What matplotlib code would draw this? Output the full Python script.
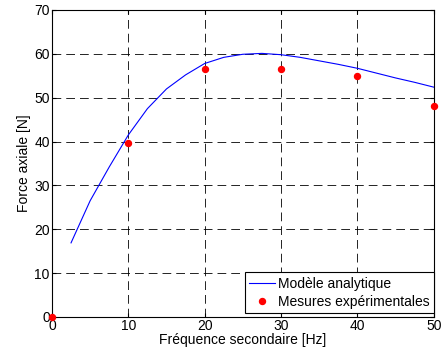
import matplotlib
matplotlib.use("Agg")
import matplotlib.pyplot as plt

model_x = [2.5, 5, 7.5, 10, 12.5, 15, 17.5, 20, 22.5, 25, 27.5, 30, 32.5, 35, 37.5, 40, 42.5, 45, 47.5, 50]
model_y = [16.9, 26.5, 34.2, 41.5, 47.5, 52.0, 55.2, 57.8, 59.2, 59.9, 60.1, 59.8, 59.2, 58.4, 57.6, 56.7, 55.6, 54.5, 53.5, 52.4]
meas_x = [0, 10, 20, 30, 40, 50]
meas_y = [0, 39.7, 56.6, 56.5, 55.0, 48.1]
xticks = [0, 10, 20, 30, 40, 50]
yticks = [0, 10, 20, 30, 40, 50, 60, 70]

plt.rcParams['font.family'] = ['Liberation Sans', 'DejaVu Sans']
plt.rcParams['font.size'] = 10

fig = plt.figure(figsize=(4.44, 3.56), dpi=100)
ax = fig.add_axes([0.117, 0.1096, 0.977 - 0.117, 0.972 - 0.1096])
ax.plot(model_x, model_y, color='blue', lw=0.8, label='Modèle analytique')
ax.plot(meas_x, meas_y, 'o', color='red', ms=4.3, label='Mesures expérimentales', clip_on=False, zorder=5)
ax.set_xlim(0, 50)
ax.set_ylim(0, 70)
ax.set_xticks(xticks)
ax.set_yticks(yticks)
ax.grid(True, color='black', linestyle=(0, (10.5, 6)), lw=0.6)
ax.tick_params(direction='in', top=True, right=True, length=3, pad=1.5, labelsize=10)
for s in ax.spines.values():
    s.set_linewidth(0.8)
ax.set_xlabel('Fréquence secondaire [Hz]', labelpad=0)
ax.set_ylabel('Force axiale [N]', labelpad=2)
leg = ax.legend(loc='lower right', bbox_to_anchor=(1.0, 0.013), fancybox=False, framealpha=1,
                edgecolor='black', borderpad=0.3, handlelength=1.9, handletextpad=0.2,
                labelspacing=0.3, borderaxespad=0, fontsize=10)
leg.get_frame().set_linewidth(0.8)
fig.savefig('out.png', dpi=100)
